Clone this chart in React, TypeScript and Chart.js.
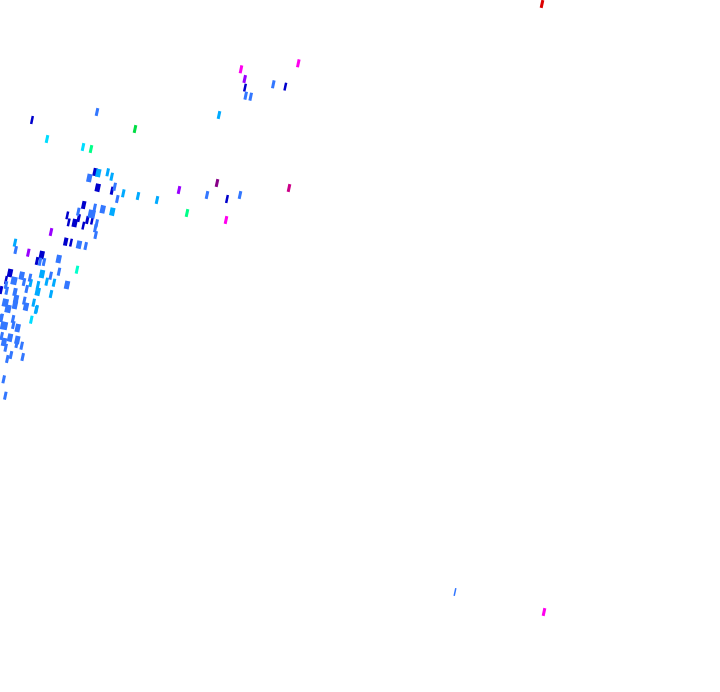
import React, { useEffect, useRef } from "react";
import { Chart, registerables } from "chart.js";

Chart.register(...registerables);

const navyX = [32, 245, 285.3, 95, 97.7, 112, 227, 83.7, 67.3, 68.7, 74.7, 78.7, 83.3, 87.3, 92, 65.7, 71, 41.7, 37, 10, 6, 1];
const navyY = [120, 87.7, 86.7, 172, 187.7, 190.7, 199, 205, 215.3, 222.3, 223, 218, 225.7, 220, 220.7, 241.7, 242.7, 255, 261, 273, 280, 290];
const navyW = [2.5, 2.5, 2.5, 4, 5, 3, 2.5, 4, 2.5, 2.5, 5, 3, 2.5, 3, 2.5, 4, 2.5, 5, 3, 5, 2.5, 3];

const blueX = [97, 273.3, 245.7, 250.7, 207, 240, 89.3, 114.7, 117.3, 102.7, 94.7, 91.7, 78.3, 96.7, 95.3, 95.7, 15.7, 58.7, 79, 85.7, 40, 44, 59, 21.7, 30, 50.7, 14, 24, 26.7, 6, 6.7, 15, 67, 16, 5.3, 24.3, 26, 15, 8, 1.7, 13, 4, 1, 13.3, 17.7, 1.7, 10, 4, 17.3, 16.7, 5.7, 21.7, 11, 7.3, 22.7, 3.7, 5.3, 455];
const blueY = [112, 84.3, 95.7, 96.7, 195, 195, 178, 186.7, 199, 209.3, 207.7, 214, 211.7, 223.3, 228.3, 235, 250, 259, 244.7, 246, 261.7, 262, 271.7, 275.7, 277.7, 275.7, 280.7, 282, 289, 285, 290.7, 292, 285, 299, 302.7, 300.7, 306.7, 305, 308.7, 317.7, 319, 325.7, 318, 325, 328, 336, 337.7, 342, 340, 344, 347.7, 345.7, 355, 359, 357, 379.3, 395.7, 592];
const blueW = [3, 3, 3, 3, 3, 3, 5, 3, 3, 5, 3, 7, 3, 3, 3, 3, 3, 5, 5, 3, 3, 3, 3, 5, 3, 3, 6, 3, 3, 3, 3, 4, 5, 5, 6, 3, 5, 5, 6, 3, 3, 7, 3, 3, 5, 3, 5, 5, 5, 3, 3, 3, 3, 3, 3, 3, 3, 1.5];

const skyX = [219, 98.3, 107.7, 111.7, 123.3, 112.3, 138, 157, 15, 42, 46.7, 54, 30.7, 37.7, 38, 51, 33.7, 36.7, 36];
const skyY = [115, 173, 172.3, 176.7, 193.3, 211.7, 196, 200, 242.7, 274, 281.7, 282.7, 283, 291.7, 285, 294, 302.7, 309, 310];
const skyW = [3, 5, 3, 3, 3, 5, 3, 3, 3, 5, 3, 3, 3, 5, 3, 3, 3, 3, 3];

const cyanX = [47, 83, 31.3];
const cyanY = [139, 147, 319.7];
const tealX = [77];
const tealY = [269.7];
const greenX = [91, 187];
const greenY = [149, 213];
const limeX = [135];
const limeY = [129];
const violetX = [244.7, 179, 51, 28.3];
const violetY = [79, 190, 232, 252.7];
const magentaX = [241, 298.3, 226, 544];
const magentaY = [69.3, 63.3, 220, 612];
const plumX = [217];
const plumY = [183];
const crimsonX = [289];
const crimsonY = [188];
const redX = [542];
const redY = [4];

const toPoints = (xs: number[], ys: number[]) => xs.map((x, i) => ({ x, y: ys[i] }));

const series = (
  label: string,
  xs: number[],
  ys: number[],
  color: string,
  widths?: number[]
) => ({
  label,
  data: toPoints(xs, ys),
  pointStyle: "line" as const,
  pointRotation: -78,
  pointRadius: 4,
  pointBorderColor: color,
  pointBackgroundColor: color,
  pointBorderWidth: widths ?? 3,
  showLine: false,
  clip: false as const,
});

export default function App() {
  const ref = useRef<HTMLCanvasElement>(null);

  useEffect(() => {
    if (!ref.current) return;
    const chart = new Chart(ref.current, {
      type: "scatter",
      data: {
        datasets: [
          series("blue", blueX, blueY, "#3377ff", blueW),
          series("sky", skyX, skyY, "#00aaff", skyW),
          series("navy", navyX, navyY, "#0000cc", navyW),
          series("cyan", cyanX, cyanY, "#00ddff"),
          series("teal", tealX, tealY, "#00ffcc"),
          series("green", greenX, greenY, "#00ff88"),
          series("lime", limeX, limeY, "#00dd44"),
          series("violet", violetX, violetY, "#9900ff"),
          series("magenta", magentaX, magentaY, "#ff00ee"),
          series("plum", plumX, plumY, "#880088"),
          series("crimson", crimsonX, crimsonY, "#cc0088"),
          series("red", redX, redY, "#dd0000"),
        ] as any,
      },
      options: {
        animation: false,
        responsive: false,
        devicePixelRatio: 1,
        layout: { padding: 0, autoPadding: false },
        events: [],
        plugins: { legend: { display: false }, tooltip: { enabled: false } },
        scales: {
          x: { type: "linear", display: false, min: 0, max: 720 },
          y: { type: "linear", display: false, min: 0, max: 692, reverse: true },
        },
      },
    });
    return () => chart.destroy();
  }, []);

  return (
    <canvas
      ref={ref}
      width={720}
      height={692}
      style={{ position: "fixed", left: 0, top: 0, display: "block" }}
    />
  );
}
